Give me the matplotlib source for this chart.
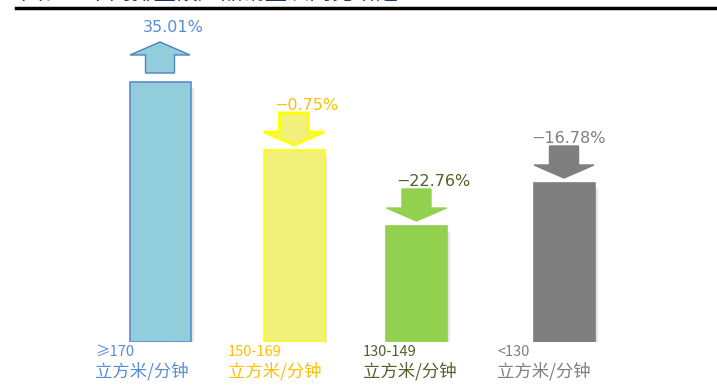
import matplotlib.pyplot as plt
from matplotlib.patches import FancyArrow

plt.rcParams['font.family'] = ['Noto Sans CJK SC', 'DejaVu Sans']

# sales volume by displacement band (relative units) and year-on-year growth
bands = ['≥170', '150-169', '130-149', '<130']
unit = '立方米/分钟'
volume = [26.0, 19.2, 11.6, 15.9]
growth = [35.01, -0.75, -22.76, -16.78]

bar_colors = ['#92CDDC', '#F0F07A', '#92D050', '#7F7F7F']
edge_colors = ['#5B8BD0', '#FFFF00', '#92D050', '#7F7F7F']
arrow_colors = ['#92CDDC', '#F0F07A', '#92D050', '#7F7F7F']
arrow_edges = ['#4F81BD', '#FFFF00', '#92D050', '#7F7F7F']
arrow_lw = [1.0, 2.0, 1.0, 1.0]
text_colors = ['#558ED5', '#FFC000', '#4F6228', '#7F7F7F']

xpos = [1.60, 2.94, 4.165, 5.64]
label_x = [0.95, 2.28, 3.63, 4.97]
pct_dx = [0.13, 0.12, 0.17, 0.05]

fig = plt.figure(figsize=(7.17, 3.85), dpi=100)
ax = fig.add_axes([0, 43 / 385, 1, 332 / 385])
ax.set_xlim(0, 7.17)
ax.set_ylim(0, 33.2)
ax.axis('off')

# faint drop shadow, then the bars
ax.bar([x + 0.03 for x in xpos], [v - 0.3 for v in volume], bottom=-0.3,
       width=0.61, color='#E6E6E6', zorder=1)
ax.bar(xpos, volume, width=0.61, color=bar_colors, edgecolor=edge_colors,
       linewidth=1.2, zorder=2)

for x, v, g, fc, ec, lw, tc, dx in zip(xpos, volume, growth, arrow_colors,
                                       arrow_edges, arrow_lw, text_colors,
                                       pct_dx):
    if g > 0:
        y0, dy, hl = v + 0.9, 3.1, 1.3
        ty = v + 5.5
    else:
        y0, dy, hl = v + 3.7, -3.2, 1.3
        ty = v + 4.5
    ax.add_patch(FancyArrow(x, y0, 0, dy, width=0.29, head_width=0.60,
                            head_length=hl, length_includes_head=True,
                            facecolor=fc, edgecolor=ec, linewidth=lw,
                            zorder=3))
    ax.text(x + dx, ty, f'{g:.2f}%'.replace('-', '−'), color=tc,
            fontsize=11.5, ha='center', va='center', family='DejaVu Sans')

# category labels below the bars
for lx, b, tc in zip(label_x, bands, text_colors):
    fig.text(lx / 7.17, 1 - 352 / 385, b, color=tc, fontsize=10.5,
             ha='left', va='center')
    fig.text(lx / 7.17, 1 - 371 / 385, unit, color=tc, fontsize=12.5,
             ha='left', va='center')

# header rule with the chart title above it
fig.add_artist(plt.Line2D([16 / 717, 1], [1 - 8 / 385, 1 - 8 / 385],
                          color='black', linewidth=2.5))
fig.text(20 / 717, 1 - 5 / 385, '图表：不同排量段产品销量及同比增速',
         color='#1F3864', fontsize=16, ha='left', va='bottom')

fig.savefig('out.png', dpi=100)
